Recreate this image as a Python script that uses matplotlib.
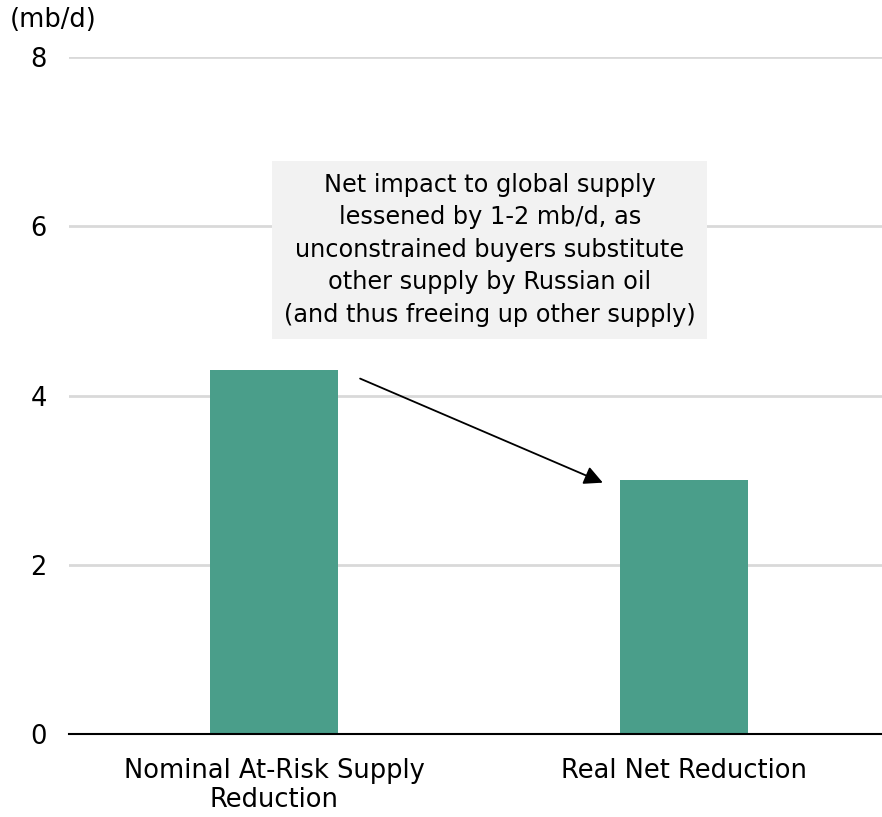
import matplotlib
matplotlib.use("Agg")
import matplotlib.pyplot as plt

categories = ["Nominal At-Risk Supply\nReduction", "Real Net Reduction"]
values = [4.3, 3.0]
yticks = [0, 2, 4, 6, 8]
unit_label = "(mb/d)"
note = ("Net impact to global supply\nlessened by 1-2 mb/d, as\n"
        "unconstrained buyers substitute\nother supply by Russian oil\n"
        "(and thus freeing up other supply)")

plt.rcParams['font.family'] = ['DejaVu Sans']
W, H = 882, 817
fig = plt.figure(figsize=(W/100, H/100), dpi=100)
left, right, bottom, top = 69, 889, 734, 57
ax = fig.add_axes([left/W, 1-bottom/H, (right-left)/W, (bottom-top)/H])
ax.set_facecolor('white')

x = list(range(len(categories)))
ax.bar(x, values, width=0.312, color='#4a9e8a', zorder=3)
ax.set_xlim(-0.5, 1.5)
ax.set_ylim(0, 8)
ax.set_yticks(yticks)
ax.set_yticklabels([str(t) for t in yticks], fontsize=18.5)
ax.set_xticks(x)
ax.set_xticklabels(categories, fontsize=18.5, linespacing=1.15)
ax.yaxis.grid(True, color='#d9d9d9', lw=2, zorder=0)
ax.set_axisbelow(True)
for s in ['top', 'right', 'left']:
    ax.spines[s].set_visible(False)
ax.spines['bottom'].set_color('black')
ax.spines['bottom'].set_linewidth(1.5)
ax.spines['bottom'].set_zorder(4)
ax.tick_params(axis='both', length=0)
ax.tick_params(axis='y', pad=22)
ax.tick_params(axis='x', pad=17)
for lbl in ax.get_yticklabels():
    lbl.set_horizontalalignment('center')

fig.text(10/W, 1-20/H, unit_label, fontsize=18.5, ha='left', va='center')

ax.text(0.526, 5.72, note, fontsize=17.3, ha='center', va='center',
        linespacing=1.45, zorder=5,
        bbox=dict(boxstyle='square,pad=0.48', fc='#f2f2f2', ec='none'))

ax.annotate('', xy=(0.802, 2.97), xytext=(0.21, 4.2),
            arrowprops=dict(arrowstyle='-|>', color='black', lw=1.3,
                            mutation_scale=28, shrinkA=0, shrinkB=0),
            zorder=6)

fig.savefig('out.png', dpi=100, facecolor='white')
